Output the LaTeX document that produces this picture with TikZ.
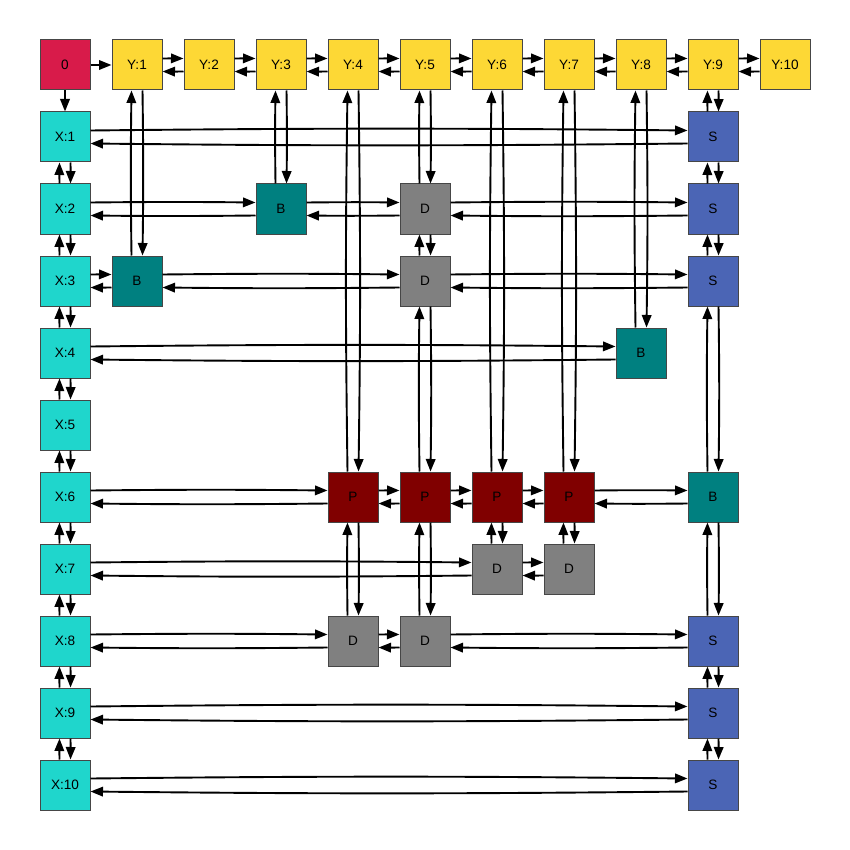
\documentclass[tikz,border=0pt]{standalone}
\usepackage{fontspec}
\setmainfont{Liberation Sans}
\usetikzlibrary{arrows.meta}
\definecolor{cZero}{RGB}{216,27,74}
\definecolor{cY}{RGB}{253,216,53}
\definecolor{cX}{RGB}{31,214,204}
\definecolor{cS}{RGB}{75,101,181}
\definecolor{cB}{RGB}{0,128,128}
\definecolor{cD}{RGB}{128,128,128}
\definecolor{cP}{RGB}{128,0,0}
\definecolor{cBorder}{RGB}{70,70,70}
\tikzset{
  box/.style={draw=cBorder, line width=1pt, minimum width=50pt, minimum height=50pt, inner sep=0pt,
    font=\fontsize{13.6}{16}\selectfont},
  zero/.style={box, fill=cZero},
  ybox/.style={box, fill=cY},
  xbox/.style={box, fill=cX},
  sbox/.style={box, fill=cS},
  bbox/.style={box, fill=cB},
  dbox/.style={box, fill=cD},
  pbox/.style={box, fill=cP},
  edge/.style={line width=1.9pt, -{Triangle[length=12.5pt,width=9.5pt]}},
}
\newcommand\hpair[2]{%
  \draw[edge] ([yshift=6.5pt]#1.east) to[bend left=0.6] ([yshift=6.5pt]#2.west);
  \draw[edge] ([yshift=-6.5pt]#2.west) to[bend left=0.6] ([yshift=-6.5pt]#1.east);
}
\newcommand\vpair[2]{%
  \draw[edge] ([xshift=5.5pt]#1.south) to[bend left=0.8] ([xshift=5.5pt]#2.north);
  \draw[edge] ([xshift=-5.5pt]#2.north) to[bend left=0.8] ([xshift=-5.5pt]#1.south);
}
\begin{document}
\begin{tikzpicture}[x=1pt,y=1pt]
\useasboundingbox (0,0) rectangle (850,-850);
\def\P#1#2{({65+72*#1},{-65-72*#2})}
% top row
\node[zero] (z) at \P{0}{0} {0};
\foreach \i in {1,...,10} {
  \node[ybox] (y\i) at \P{\i}{0} {Y:\i};
  \node[xbox] (x\i) at \P{0}{\i} {X:\i};
}
% inner nodes (name: letter + row + col)
\node[sbox] (s1) at \P{9}{1} {S};
\node[bbox] (b23) at \P{3}{2} {B};
\node[dbox] (d25) at \P{5}{2} {D};
\node[sbox] (s2) at \P{9}{2} {S};
\node[bbox] (b31) at \P{1}{3} {B};
\node[dbox] (d35) at \P{5}{3} {D};
\node[sbox] (s3) at \P{9}{3} {S};
\node[bbox] (b48) at \P{8}{4} {B};
\node[pbox] (p4) at \P{4}{6} {P};
\node[pbox] (p5) at \P{5}{6} {P};
\node[pbox] (p6) at \P{6}{6} {P};
\node[pbox] (p7) at \P{7}{6} {P};
\node[bbox] (b69) at \P{9}{6} {B};
\node[dbox] (d76) at \P{6}{7} {D};
\node[dbox] (d77) at \P{7}{7} {D};
\node[dbox] (d84) at \P{4}{8} {D};
\node[dbox] (d85) at \P{5}{8} {D};
\node[sbox] (s8) at \P{9}{8} {S};
\node[sbox] (s9) at \P{9}{9} {S};
\node[sbox] (s10) at \P{9}{10} {S};
% edges from 0
\draw[edge] (z) -- (y1);
\draw[edge] (z) -- (x1);
% top row chain and left column chain
\foreach \a/\b in {1/2,2/3,3/4,4/5,5/6,6/7,7/8,8/9,9/10} {
  \hpair{y\a}{y\b}
  \vpair{x\a}{x\b}
}
% vertical from Y nodes
\vpair{y1}{b31}
\vpair{y3}{b23}
\vpair{y4}{p4}
\vpair{y5}{d25}
\vpair{y6}{p6}
\vpair{y7}{p7}
\vpair{y8}{b48}
\vpair{y9}{s1}
% column 9
\vpair{s1}{s2}
\vpair{s2}{s3}
\vpair{s3}{b69}
\vpair{b69}{s8}
\vpair{s8}{s9}
\vpair{s9}{s10}
% column 5
\vpair{d25}{d35}
\vpair{d35}{p5}
% P to D
\vpair{p4}{d84}
\vpair{p5}{d85}
\vpair{p6}{d76}
\vpair{p7}{d77}
% rows
\hpair{x1}{s1}
\hpair{x2}{b23}
\hpair{b23}{d25}
\hpair{d25}{s2}
\hpair{x3}{b31}
\hpair{b31}{d35}
\hpair{d35}{s3}
\hpair{x4}{b48}
\hpair{x6}{p4}
\hpair{p4}{p5}
\hpair{p5}{p6}
\hpair{p6}{p7}
\hpair{p7}{b69}
\hpair{x7}{d76}
\hpair{d76}{d77}
\hpair{x8}{d84}
\hpair{d84}{d85}
\hpair{d85}{s8}
\hpair{x9}{s9}
\hpair{x10}{s10}
\end{tikzpicture}
\end{document}
